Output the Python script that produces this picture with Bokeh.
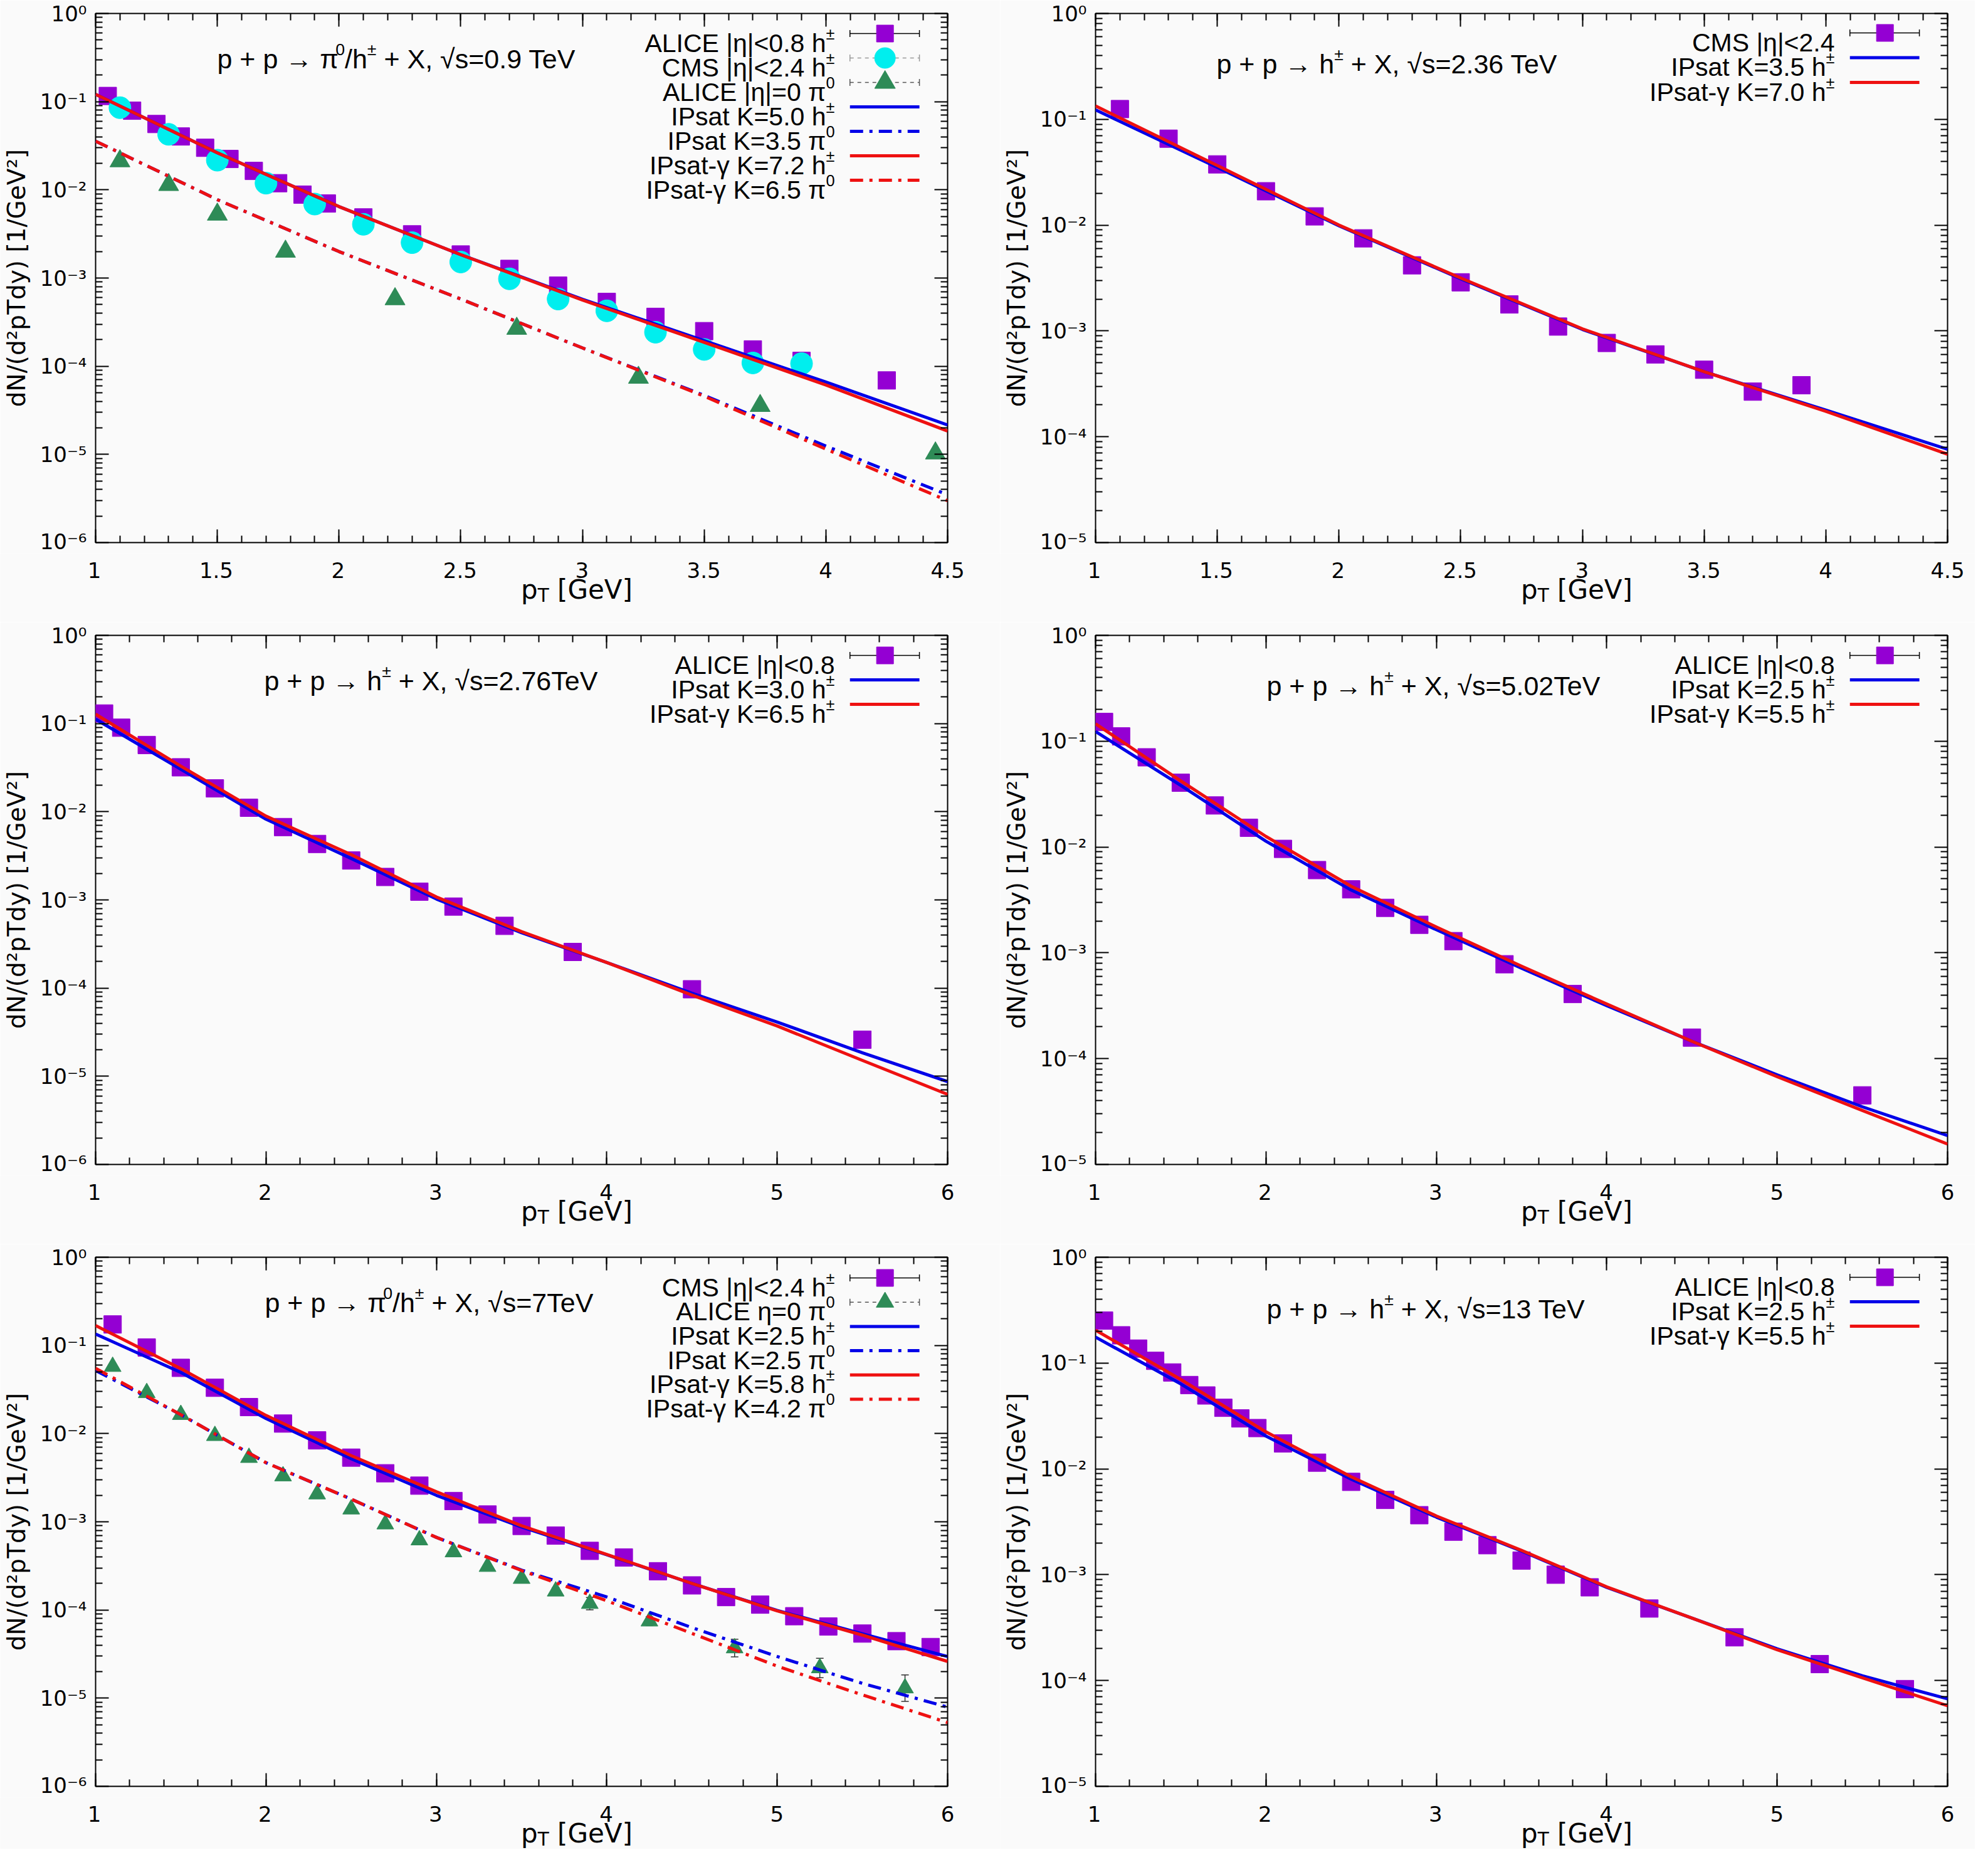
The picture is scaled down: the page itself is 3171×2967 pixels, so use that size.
import math
from bokeh.plotting import figure
from bokeh.layouts import column, row
from bokeh.models import (Range1d, FixedTicker, LinearAxis, LogAxis, Label,
                          CustomJSTickFormatter, ColumnDataSource, Whisker, TeeHead)
from bokeh.core.properties import value
from bokeh.embed import file_html
from bokeh.resources import INLINE

# ---------------------------------------------------------------- data
curve_x_45 = [1.0, 1.5, 2.0, 2.5, 3.0, 3.5, 4.0, 4.5]
curve_x_6 = [1.0, 1.5, 2.0, 2.5, 3.0, 3.5, 4.0, 4.5, 5.0, 5.5, 6.0]

# sqrt(s) = 0.9 TeV
alice09_x = [1.05, 1.15, 1.25, 1.35, 1.45, 1.55, 1.65, 1.75, 1.85, 1.95, 2.1, 2.3, 2.5, 2.7, 2.9, 3.1, 3.3, 3.5, 3.7, 3.9, 4.25]
alice09_y = [0.116, 0.079, 0.0558, 0.0403, 0.030, 0.0224, 0.0164, 0.0119, 0.00883, 0.0070, 0.00487, 0.00313, 0.00185,
             0.00127, 0.00082, 0.000536, 0.000363, 0.00025, 0.000155, 0.000115, 6.9e-5]
cms09_x = [1.1, 1.3, 1.5, 1.7, 1.9, 2.1, 2.3, 2.5, 2.7, 2.9, 3.1, 3.3, 3.5, 3.7, 3.9]
cms09_y = [0.0855, 0.0426, 0.0217, 0.0119, 0.0069, 0.00407, 0.00252, 0.00152, 0.00098, 0.000578, 0.000425,
           0.000243, 0.000155, 0.000109, 0.000107]
alicepi09_x = [1.1, 1.3, 1.5, 1.78, 2.23, 2.73, 3.23, 3.73, 4.45]
alicepi09_y = [0.0212, 0.0114, 0.00526, 0.0020, 0.000578, 0.000267, 7.43e-5, 3.56e-5, 1.03e-5]
ipsat09_h_log = [-0.917, -1.58, -2.19, -2.735, -3.24, -3.71, -4.18, -4.667]
ipsat09_pi_log = [-1.448, -2.111, -2.70, -3.238, -3.793, -4.331, -4.905, -5.458]
ipsatg09_h_log = [-0.917, -1.58, -2.19, -2.735, -3.25, -3.73, -4.213, -4.735]
ipsatg09_pi_log = [-1.448, -2.111, -2.70, -3.238, -3.793, -4.34, -4.94, -5.525]

# sqrt(s) = 2.36 TeV
cms236_x = [1.1, 1.3, 1.5, 1.7, 1.9, 2.1, 2.3, 2.5, 2.7, 2.9, 3.1, 3.3, 3.5, 3.7, 3.9]
cms236_y = [0.125, 0.0656, 0.0375, 0.0209, 0.0121, 0.0075, 0.00417, 0.00288, 0.00178, 0.0011, 0.00077, 0.0006,
            0.00043, 0.000267, 0.000307]
ipsat236_log = [-0.911, -1.455, -2.007, -2.507, -2.986, -3.385, -3.748, -4.118]
ipsatg236_log = [-0.874, -1.437, -2.0, -2.5, -2.98, -3.385, -3.76, -4.165]

# sqrt(s) = 2.76 TeV
alice276_x = [1.05, 1.15, 1.3, 1.5, 1.7, 1.9, 2.1, 2.3, 2.5, 2.7, 2.9, 3.1, 3.4, 3.8, 4.5, 5.5]
alice276_y = [0.130, 0.0897, 0.0571, 0.0319, 0.0184, 0.0111, 0.0067, 0.00431, 0.0028, 0.00182, 0.00124, 0.00084,
              0.000508, 0.000257, 9.7e-5, 2.6e-5]
ipsat276_log = [-0.951, -1.518, -2.085, -2.53, -2.99, -3.373, -3.71, -4.058, -4.385, -4.734, -5.06]
ipsatg276_log = [-0.894, -1.483, -2.05, -2.487, -2.967, -3.36, -3.71, -4.08, -4.43, -4.82, -5.205]

# sqrt(s) = 5.02 TeV
alice502_x = [1.05, 1.15, 1.3, 1.5, 1.7, 1.9, 2.1, 2.3, 2.5, 2.7, 2.9, 3.1, 3.4, 3.8, 4.5, 5.5]
alice502_y = [0.152, 0.111, 0.0704, 0.0405, 0.0247, 0.0152, 0.0096, 0.00605, 0.00398, 0.00266, 0.00184, 0.00129,
              0.00078, 0.000408, 0.000158, 4.5e-5]
ipsat502_log = [-0.909, -1.418, -1.945, -2.407, -2.782, -3.145, -3.5, -3.836, -4.153, -4.455, -4.727]
ipsatg502_log = [-0.836, -1.375, -1.90, -2.371, -2.756, -3.127, -3.484, -3.836, -4.171, -4.49, -4.807]

# sqrt(s) = 7 TeV
cms7_x = [1.1, 1.3, 1.5, 1.7, 1.9, 2.1, 2.3, 2.5, 2.7, 2.9, 3.1, 3.3, 3.5, 3.7, 3.9, 4.1, 4.3, 4.5, 4.7, 4.9,
          5.1, 5.3, 5.5, 5.7, 5.9]
cms7_y = [0.173, 0.0948, 0.0557, 0.0331, 0.020, 0.013, 0.00838, 0.00534, 0.00355, 0.00257, 0.00172, 0.00121,
          0.000897, 0.000698, 0.000468, 0.000394, 0.000275, 0.00019, 0.00014, 0.000115, 8.5e-5, 6.5e-5, 5.4e-5,
          4.43e-5, 3.8e-5]
alicepi7_x = [1.1, 1.3, 1.5, 1.7, 1.9, 2.1, 2.3, 2.5, 2.7, 2.9, 3.1, 3.3, 3.5, 3.7, 3.9, 4.25, 4.75, 5.25, 5.75]
alicepi7_y = [0.0575, 0.029, 0.0164, 0.00946, 0.00534, 0.0033, 0.00206, 0.00139, 0.00094, 0.00062, 0.000454,
              0.00031, 0.000227, 0.000163, 0.000118, 7.46e-5, 3.7e-5, 2.2e-5, 1.3e-5]
alicepi7_err_dex = [0.02, 0.02, 0.02, 0.02, 0.02, 0.02, 0.02, 0.02, 0.02, 0.02, 0.03, 0.03, 0.03, 0.04, 0.07,
                    0.05, 0.10, 0.11, 0.15]
ipsat7_h_log = [-0.871, -1.306, -1.829, -2.286, -2.70, -3.06, -3.374, -3.70, -4.005, -4.27, -4.528]
ipsat7_pi_log = [-1.284, -1.785, -2.33, -2.743, -3.177, -3.548, -3.853, -4.2, -4.528, -4.832, -5.102]
ipsatg7_h_log = [-0.775, -1.263, -1.794, -2.25, -2.66, -3.045, -3.37, -3.70, -4.01, -4.285, -4.584]
ipsatg7_pi_log = [-1.26, -1.785, -2.33, -2.743, -3.177, -3.553, -3.896, -4.266, -4.637, -4.963, -5.277]

# sqrt(s) = 13 TeV
alice13_x = [1.05, 1.15, 1.25, 1.35, 1.45, 1.55, 1.65, 1.75, 1.85, 1.95, 2.1, 2.3, 2.5, 2.7, 2.9, 3.1, 3.3, 3.5,
             3.7, 3.9, 4.25, 4.75, 5.25, 5.75]
alice13_y = [0.252, 0.183, 0.137, 0.105, 0.0815, 0.062, 0.0494, 0.0378, 0.030, 0.0243, 0.0174, 0.01145, 0.00754,
             0.00509, 0.00365, 0.00255, 0.0019, 0.00136, 0.001, 0.00076, 0.000479, 0.000256, 0.000143, 8.3e-5]
ipsat13_log = [-0.755, -1.197, -1.69, -2.097, -2.456, -2.776, -3.12, -3.41, -3.70, -3.955, -4.173]
ipsatg13_log = [-0.689, -1.154, -1.65, -2.075, -2.445, -2.77, -3.115, -3.41, -3.71, -3.975, -4.238]

Y_LABEL = "dN/(d²pTdy) [1/GeV²]"

# ---------------------------------------------------------------- style
BG = "#fafafa"
PURPLE = "#9400d3"
CYAN = "#00eeee"
GREEN = "#2e8b57"
BLUE = "#0000e8"
RED = "#ee1111"
DASHDOT = "21 10 5 10"
FRAME_W, FRAME_H = 1361, 844
TOP_B, BOT_B, LEFT_B = 21, 18, 150
TXT_FONT = "Liberation Sans"
AX_FONT = "DejaVu Sans"
TXT_SIZE = 41
TITLE_SIZE = 43
TICK_SIZE = 34
XLAB_SIZE = 42
YLAB_SIZE = 39

AR = {' ': .278, '+': .584, ',': .278, '-': .333, '.': .278, '/': .278, '<': .584, '=': .584, '|': .26,
      '(': .333, ')': .333, 'A': .667, 'C': .722, 'E': .667, 'I': .278, 'K': .667, 'L': .556, 'M': .833,
      'P': .667, 'S': .667, 'T': .611, 'V': .667, 'X': .667, 'a': .556, 'e': .556, 'h': .556, 'p': .556,
      's': .5, 't': .278, '→': 1.0, '√': .549, 'π': .58, 'η': .556, 'γ': .5, '±': .549}
for _d in "0123456789":
    AR[_d] = .556
DJ = {' ': .318, '[': .39, ']': .39, '(': .39, ')': .39, '/': .337, 'd': .635, 'N': .748, 'p': .635,
      'y': .592, 'T': .611, 'G': .775, 'e': .615, 'V': .684, '²': .401}
for _d in "0123456789":
    DJ[_d] = .636


def tw(s, size, table):
    return sum(table.get(c, 0.556) for c in s) * size


def piece_items(pieces, size, sup_scale=0.62, sup_raise=15, sub_scale=0.7, sub_drop=9):
    out = []
    for text, kind in pieces:
        if kind == 'sup':
            out.append((text, size * sup_scale, sup_raise))
        elif kind == 'sub':
            out.append((text, size * sub_scale, -sub_drop))
        else:
            out.append((text, size, 0))
    return out


def rich(p, x, y, pieces, size, font, table, dx, dy, align="left"):
    """Rich text (super/subscripts) as Labels anchored at a data point inside a frame."""
    items = piece_items(pieces, size)
    if align == "left":
        cur = dx
        for text, s, off in items:
            lead = len(text) - len(text.lstrip(' '))
            body = text.strip(' ')
            p.add_layout(Label(x=x, y=y, x_offset=cur + tw(text[:lead], s, table), y_offset=dy + off,
                               text=body, text_font=font, text_font_size="%.1fpx" % s, text_color="black",
                               text_align="left", text_baseline="alphabetic"))
            cur += tw(text, s, table)
    else:
        cur = dx
        for text, s, off in reversed(items):
            trail = len(text) - len(text.rstrip(' '))
            body = text.strip(' ')
            p.add_layout(Label(x=x, y=y, x_offset=cur - tw(text[len(text) - trail:], s, table),
                               y_offset=dy + off, text=body, text_font=font, text_font_size="%.1fpx" % s,
                               text_color="black", text_align="right", text_baseline="alphabetic"))
            cur -= tw(text, s, table)


def rich_px(f, x0, y0, pieces, size, font, table, sub_drop=9):
    """Horizontal rich text in a pixel-unit strip figure (y up)."""
    cur = x0
    for text, s, off in piece_items(pieces, size, sub_drop=sub_drop):
        lead = len(text) - len(text.lstrip(' '))
        body = text.strip(' ')
        f.text(x=[cur + tw(text[:lead], s, table)], y=[y0 + off], text=[body], text_align="left",
               text_baseline="alphabetic", text_font=value(font), text_font_size=value("%.1fpx" % s),
               text_color="black")
        cur += tw(text, s, table)


YFMT = """
const e = Math.round(Math.log10(tick));
const m = {"-":"\\u207b","0":"\\u2070","1":"\\u00b9","2":"\\u00b2","3":"\\u00b3","4":"\\u2074",
           "5":"\\u2075","6":"\\u2076","7":"\\u2077","8":"\\u2078","9":"\\u2079"};
return "10" + String(e).split("").map(c => m[c]).join("");
"""
EMPTY = "return '';"


def no_align(f):
    try:
        f.frame_align = False
    except Exception:
        pass
    return f


def style_axis(ax, standoff=14, show_labels=True):
    ax.axis_line_color = None
    ax.major_tick_in = 21
    ax.major_tick_out = 0
    ax.minor_tick_in = 11
    ax.minor_tick_out = 0
    ax.major_tick_line_width = 2
    ax.minor_tick_line_width = 2
    ax.major_tick_line_color = "black"
    ax.minor_tick_line_color = "black"
    ax.major_label_text_font = AX_FONT
    ax.major_label_text_font_size = ("%dpx" % TICK_SIZE) if show_labels else "0px"
    ax.major_label_text_color = "black"
    ax.major_label_standoff = standoff


def blank_fig(w, h):
    f = figure(width=w, height=h, x_range=Range1d(0, w), y_range=Range1d(0, h),
               x_axis_type=None, y_axis_type=None, output_backend="svg", toolbar_location=None,
               min_border_left=0, min_border_right=0, min_border_top=0, min_border_bottom=0,
               background_fill_color=BG, border_fill_color=BG)
    f.grid.visible = False
    f.outline_line_color = None
    return no_align(f)


def make_panel(cfg):
    xmin, xmax = cfg["xr"]
    ylo, yhi = cfg["yr"]
    Wm = LEFT_B + FRAME_W + cfg["br"]
    Hm = TOP_B + FRAME_H + BOT_B
    p = figure(width=Wm, height=Hm, x_range=Range1d(xmin, xmax),
               y_range=Range1d(10.0 ** ylo, 10.0 ** yhi), y_axis_type="log",
               output_backend="svg", toolbar_location=None,
               min_border_left=LEFT_B, min_border_right=cfg["br"],
               min_border_top=TOP_B, min_border_bottom=BOT_B,
               background_fill_color=BG, border_fill_color=BG)
    no_align(p)
    p.grid.visible = False
    p.outline_line_color = "black"
    p.outline_line_width = 2

    step = cfg["xstep"]
    nmaj = int(round((xmax - xmin) / step))
    xt = [round(xmin + i * step, 3) for i in range(nmaj + 1)]
    mstep = cfg["xminor"]
    nmin = int(round((xmax - xmin) / mstep))
    xm = [round(xmin + i * mstep, 3) for i in range(nmin + 1)]
    yt = [10.0 ** k for k in range(ylo, yhi + 1)]
    ym = [m * 10.0 ** k for k in range(ylo, yhi) for m in range(2, 10)]

    p.xaxis[0].ticker = FixedTicker(ticks=xt, minor_ticks=xm)
    p.xaxis[0].formatter = CustomJSTickFormatter(code=EMPTY)
    style_axis(p.xaxis[0], 0, show_labels=False)
    yax = p.yaxis[0]
    yax.ticker = FixedTicker(ticks=yt, minor_ticks=ym)
    yax.formatter = CustomJSTickFormatter(code=YFMT)
    style_axis(yax, 14)
    yax.axis_label = Y_LABEL
    yax.axis_label_text_font = AX_FONT
    yax.axis_label_text_font_size = "%dpx" % YLAB_SIZE
    yax.axis_label_text_font_style = "normal"
    yax.axis_label_text_color = "black"
    yax.axis_label_standoff = 12

    top = LinearAxis(ticker=FixedTicker(ticks=xt, minor_ticks=xm), formatter=CustomJSTickFormatter(code=EMPTY))
    style_axis(top, 0, show_labels=False)
    p.add_layout(top, "above")
    right = LogAxis(ticker=FixedTicker(ticks=yt, minor_ticks=ym), formatter=CustomJSTickFormatter(code=EMPTY))
    style_axis(right, 0, show_labels=False)
    p.add_layout(right, "right")

    # data points
    for s in cfg["points"]:
        if "err" in s:
            lo = [v * 10 ** (-e) for v, e in zip(s["y"], s["err"])]
            hi = [v * 10 ** e for v, e in zip(s["y"], s["err"])]
            src = ColumnDataSource(dict(x=s["x"], lo=lo, hi=hi))
            p.add_layout(Whisker(source=src, base="x", upper="hi", lower="lo", dimension="height",
                                 line_color="#333333", line_width=1.5,
                                 upper_head=TeeHead(size=12, line_color="#333333", line_width=1.5),
                                 lower_head=TeeHead(size=12, line_color="#333333", line_width=1.5)))
        p.scatter(s["x"], s["y"], marker=s["marker"], size=s["size"], fill_color=s["color"],
                  line_color=s["color"], line_width=1)
    # theory curves
    for c in cfg["curves"]:
        p.line(c["x"], [10.0 ** v for v in c["log"]], line_color=c["color"], line_width=5,
               line_dash=c["dash"], line_join="round")

    # legend (gnuplot style: text right-aligned, sample to its right)
    def xpx(px_from_right):
        return xmax - px_from_right * (xmax - xmin) / FRAME_W

    def ypx(px_from_top):
        return 10.0 ** (yhi - px_from_top * (yhi - ylo) / FRAME_H)

    for i, ent in enumerate(cfg["legend"]):
        yc = cfg["leg_first"] + i * cfg["leg_sp"]
        yy = ypx(yc)
        if ent["kind"] == "pts":
            p.line([xpx(156), xpx(45)], [yy, yy], line_color=ent["bar"], line_width=1.5,
                   line_dash=ent["bardash"])
            p.scatter([xpx(156), xpx(45)], [yy, yy], marker="dash", angle=math.pi / 2, size=11,
                      line_color=ent["bar"], line_width=1.5)
            p.scatter([xpx(100)], [yy], marker=ent["marker"], size=ent["size"], fill_color=ent["color"],
                      line_color=ent["color"])
        else:
            p.line([xpx(156), xpx(45)], [yy, yy], line_color=ent["color"], line_width=5,
                   line_dash=ent["dash"])
        rich(p, xmax, 10.0 ** yhi, ent["text"], TXT_SIZE, TXT_FONT, AR, -180, -(yc + 15), align="right")

    # title inside the frame
    rich(p, xmin, 10.0 ** yhi, cfg["title"], TITLE_SIZE, TXT_FONT, AR, cfg["tdx"], -cfg["tdy"], align="left")

    # strip below the frame: x tick labels and x axis label (pixel units, y up)
    Hx = cfg["H"] - Hm
    xl = blank_fig(Wm, Hx)
    tick_px = [LEFT_B + (v - xmin) / (xmax - xmin) * FRAME_W for v in xt]
    tick_txt = ["%g" % v for v in xt]
    xl.text(x=tick_px, y=[Hx - (44 - BOT_B)] * len(xt), text=tick_txt, text_align="center",
            text_baseline="alphabetic", text_font=value(AX_FONT), text_font_size=value("%dpx" % TICK_SIZE),
            text_color="black")
    rich_px(xl, LEFT_B + FRAME_W / 2.0, Hx - (75 - BOT_B), [("p", "n"), ("T", "sub"), (" [GeV]", "n")],
            XLAB_SIZE, AX_FONT, DJ)
    return column(p, xl)


def sq(x, y):
    return dict(x=x, y=y, marker="square", size=28, color=PURPLE)


def leg_pts(text, marker, color, size, bar="black", bardash="solid"):
    return dict(kind="pts", text=text, marker=marker, color=color, size=size, bar=bar, bardash=bardash)


def leg_line(text, color, dash):
    return dict(kind="line", text=text, color=color, dash=dash)


HPM = [("±", "sup")]
PI0 = [("0", "sup")]

col1 = dict(br=84)    # total width 150 + 1361 + 84 = 1595
col2 = dict(br=44)    # total width 150 + 1361 + 44 = 1555
row12 = dict(H=992)
row3 = dict(H=965)

panels = []

panels.append(dict(col1, **row12, xr=(1, 4.5), yr=(-6, 0), xstep=0.5, xminor=0.1,
    title=[("p + p → π", "n"), ("0", "sup"), ("/h", "n"), ("±", "sup"), (" + X, √s=0.9 TeV", "n")],
    tdx=194, tdy=72, leg_first=32, leg_sp=39,
    points=[sq(alice09_x, alice09_y),
            dict(x=cms09_x, y=cms09_y, marker="circle", size=35, color=CYAN),
            dict(x=alicepi09_x, y=alicepi09_y, marker="triangle", size=32, color=GREEN)],
    curves=[dict(x=curve_x_45, log=ipsat09_h_log, color=BLUE, dash="solid"),
            dict(x=curve_x_45, log=ipsat09_pi_log, color=BLUE, dash=DASHDOT),
            dict(x=curve_x_45, log=ipsatg09_h_log, color=RED, dash="solid"),
            dict(x=curve_x_45, log=ipsatg09_pi_log, color=RED, dash=DASHDOT)],
    legend=[leg_pts([("ALICE |η|<0.8 h", "n")] + HPM, "square", PURPLE, 27),
            leg_pts([("CMS |η|<2.4 h", "n")] + HPM, "circle", CYAN, 33, "#999999", "6 6"),
            leg_pts([("ALICE |η|=0 π", "n")] + PI0, "triangle", GREEN, 33, "#555555", "6 6"),
            leg_line([("IPsat K=5.0 h", "n")] + HPM, BLUE, "solid"),
            leg_line([("IPsat K=3.5 π", "n")] + PI0, BLUE, DASHDOT),
            leg_line([("IPsat-γ K=7.2 h", "n")] + HPM, RED, "solid"),
            leg_line([("IPsat-γ K=6.5 π", "n")] + PI0, RED, DASHDOT)]))

panels.append(dict(col2, **row12, xr=(1, 4.5), yr=(-5, 0), xstep=0.5, xminor=0.1,
    title=[("p + p → h", "n"), ("±", "sup"), (" + X, √s=2.36 TeV", "n")],
    tdx=193, tdy=80, leg_first=31, leg_sp=39.5,
    points=[sq(cms236_x, cms236_y)],
    curves=[dict(x=curve_x_45, log=ipsat236_log, color=BLUE, dash="solid"),
            dict(x=curve_x_45, log=ipsatg236_log, color=RED, dash="solid")],
    legend=[leg_pts([("CMS |η|<2.4", "n")], "square", PURPLE, 27),
            leg_line([("IPsat K=3.5 h", "n")] + HPM, BLUE, "solid"),
            leg_line([("IPsat-γ K=7.0 h", "n")] + HPM, RED, "solid")]))

panels.append(dict(col1, **row12, xr=(1, 6), yr=(-6, 0), xstep=1, xminor=0.2,
    title=[("p + p → h", "n"), ("±", "sup"), (" + X, √s=2.76TeV", "n")],
    tdx=269, tdy=72, leg_first=32, leg_sp=39,
    points=[sq(alice276_x, alice276_y)],
    curves=[dict(x=curve_x_6, log=ipsat276_log, color=BLUE, dash="solid"),
            dict(x=curve_x_6, log=ipsatg276_log, color=RED, dash="solid")],
    legend=[leg_pts([("ALICE |η|<0.8", "n")], "square", PURPLE, 27),
            leg_line([("IPsat K=3.0 h", "n")] + HPM, BLUE, "solid"),
            leg_line([("IPsat-γ K=6.5 h", "n")] + HPM, RED, "solid")]))

panels.append(dict(col2, **row12, xr=(1, 6), yr=(-5, 0), xstep=1, xminor=0.2,
    title=[("p + p → h", "n"), ("±", "sup"), (" + X, √s=5.02TeV", "n")],
    tdx=273, tdy=80, leg_first=32, leg_sp=39,
    points=[sq(alice502_x, alice502_y)],
    curves=[dict(x=curve_x_6, log=ipsat502_log, color=BLUE, dash="solid"),
            dict(x=curve_x_6, log=ipsatg502_log, color=RED, dash="solid")],
    legend=[leg_pts([("ALICE |η|<0.8", "n")], "square", PURPLE, 27),
            leg_line([("IPsat K=2.5 h", "n")] + HPM, BLUE, "solid"),
            leg_line([("IPsat-γ K=5.5 h", "n")] + HPM, RED, "solid")]))

panels.append(dict(col1, **row3, xr=(1, 6), yr=(-6, 0), xstep=1, xminor=0.2,
    title=[("p + p → π", "n"), ("0", "sup"), ("/h", "n"), ("±", "sup"), (" + X, √s=7TeV", "n")],
    tdx=270, tdy=72, leg_first=33, leg_sp=38.7,
    points=[sq(cms7_x, cms7_y),
            dict(x=alicepi7_x, y=alicepi7_y, err=alicepi7_err_dex, marker="triangle", size=27, color=GREEN)],
    curves=[dict(x=curve_x_6, log=ipsat7_h_log, color=BLUE, dash="solid"),
            dict(x=curve_x_6, log=ipsat7_pi_log, color=BLUE, dash=DASHDOT),
            dict(x=curve_x_6, log=ipsatg7_h_log, color=RED, dash="solid"),
            dict(x=curve_x_6, log=ipsatg7_pi_log, color=RED, dash=DASHDOT)],
    legend=[leg_pts([("CMS |η|<2.4 h", "n")] + HPM, "square", PURPLE, 27),
            leg_pts([("ALICE η=0 π", "n")] + PI0, "triangle", GREEN, 28, "#555555", "6 6"),
            leg_line([("IPsat K=2.5 h", "n")] + HPM, BLUE, "solid"),
            leg_line([("IPsat K=2.5 π", "n")] + PI0, BLUE, DASHDOT),
            leg_line([("IPsat-γ K=5.8 h", "n")] + HPM, RED, "solid"),
            leg_line([("IPsat-γ K=4.2 π", "n")] + PI0, RED, DASHDOT)]))

panels.append(dict(col2, **row3, xr=(1, 6), yr=(-5, 0), xstep=1, xminor=0.2,
    title=[("p + p → h", "n"), ("±", "sup"), (" + X, √s=13 TeV", "n")],
    tdx=273, tdy=82, leg_first=32, leg_sp=39,
    points=[sq(alice13_x, alice13_y)],
    curves=[dict(x=curve_x_6, log=ipsat13_log, color=BLUE, dash="solid"),
            dict(x=curve_x_6, log=ipsatg13_log, color=RED, dash="solid")],
    legend=[leg_pts([("ALICE |η|<0.8", "n")], "square", PURPLE, 27),
            leg_line([("IPsat K=2.5 h", "n")] + HPM, BLUE, "solid"),
            leg_line([("IPsat-γ K=5.5 h", "n")] + HPM, RED, "solid")]))

cells = [make_panel(c) for c in panels]
layout = column(row(cells[0], cells[1]), row(cells[2], cells[3]), row(cells[4], cells[5]))

open("out.html", "w").write(file_html(layout, INLINE, title="pp spectra"))
